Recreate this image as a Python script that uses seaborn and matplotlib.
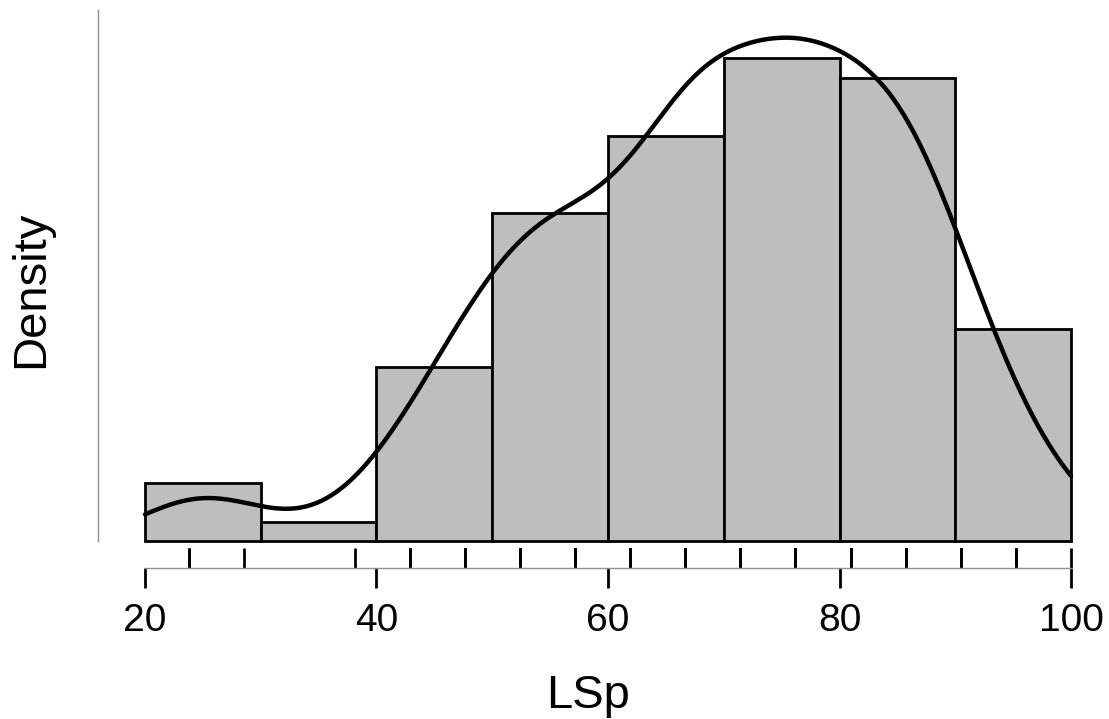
import numpy as np
import matplotlib
matplotlib.use("Agg")
import matplotlib.pyplot as plt
import seaborn as sns

# LSp scores are multiples of 100/21 (the rug shows the distinct values)
lsp_values = [23.81, 28.57, 38.10, 42.86, 47.62, 52.38, 57.14, 61.90, 66.67,
              71.43, 76.19, 80.95, 85.71, 90.48, 95.24, 100.0]
lsp_counts = [2, 1, 1, 3, 6, 8, 9, 7, 14, 11, 14, 11, 13, 7, 3, 1]
bin_edges = [20, 30, 40, 50, 60, 70, 80, 90, 100]
xticks = [20, 40, 60, 80, 100]

lsp = np.repeat(lsp_values, lsp_counts)

sns.set_style("white")
plt.rcParams['font.family'] = ['Liberation Sans', 'DejaVu Sans']
plt.rcParams['text.color'] = "black"
plt.rcParams['axes.labelcolor'] = "black"
plt.rcParams['xtick.color'] = "black"

fig = plt.figure(figsize=(11.09, 7.19), dpi=100)
ax = fig.add_axes([98 / 1109, (719 - 568) / 719, (1079 - 98) / 1109, (568 - 10) / 719])

sns.histplot(lsp, bins=bin_edges, stat="density", color="#bebebe", alpha=1,
             edgecolor="black", linewidth=2, ax=ax)
sns.kdeplot(lsp, bw_adjust=0.8, clip=(20, 100), color="black", linewidth=3.2, ax=ax)
sns.rugplot(lsp, height=0.036, color="black", linewidth=2, ax=ax)

ax.set_xlim(15.94, 100.69)
ax.set_ylim(-27 / 21423, 531 / 21423)

sns.despine(ax=ax)
ax.spines['left'].set_bounds(0, 531 / 21423)
ax.spines['left'].set_color("#909090")
ax.spines['left'].set_linewidth(1)
ax.spines['bottom'].set_bounds(20, 100)
ax.spines['bottom'].set_color("#909090")
ax.spines['bottom'].set_linewidth(1)

ax.set_xticks(xticks)
ax.set_yticks([])
ax.tick_params(axis="x", bottom=True, length=14.4, width=2, color="black",
               labelcolor="black", labelsize=28, pad=11)
ax.set_xlabel("LSp", fontsize=34, labelpad=25)
ax.set_ylabel("Density", fontsize=34, labelpad=32)

fig.savefig("out.png", dpi=100)
